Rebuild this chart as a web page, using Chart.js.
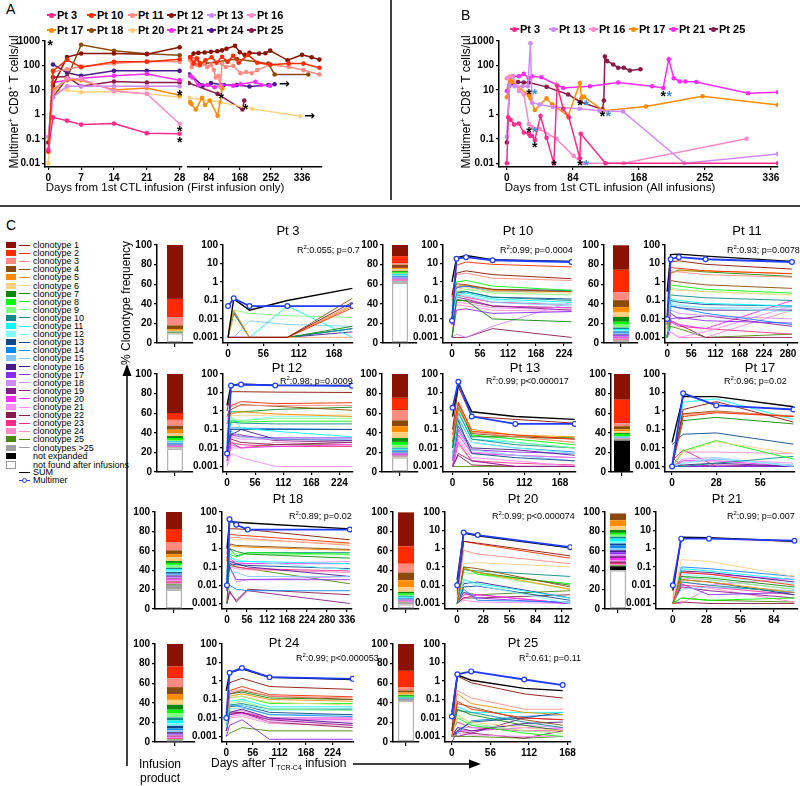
<!DOCTYPE html>
<html>
<head>
<meta charset="utf-8">
<script src="https://cdn.jsdelivr.net/npm/chart.js@4.4.1/dist/chart.umd.min.js"></script>
<style>
body{margin:0;width:800px;height:786px;position:relative;background:#fff;overflow:hidden;font-family:"Liberation Sans",Arial,sans-serif;color:#000}
canvas{position:absolute}
.t{position:absolute;white-space:nowrap;line-height:1}
</style>
</head>
<body>
<svg width="800" height="786" style="position:absolute;left:0;top:0">
  <line x1="391" y1="0" x2="391" y2="200" stroke="#000" stroke-width="1.5"/>
  <line x1="0" y1="206" x2="800" y2="206" stroke="#000" stroke-width="1.5"/>
  <line x1="127" y1="766" x2="127" y2="374" stroke="#000" stroke-width="1.5"/>
  <polygon points="127,364 122.5,376 131.5,376" fill="#000"/>
  <line x1="353" y1="764" x2="470" y2="764" stroke="#000" stroke-width="1.5"/>
  <polygon points="481,764 469,759.5 469,768.5" fill="#000"/>
</svg>
<script>
Chart.defaults.font.family = '"Liberation Sans", Arial, sans-serif';
Chart.defaults.color = '#000';

// ---------- panel A data (first infusion only) ----------
const aNames = ['Pt 3', 'Pt 10', 'Pt 11', 'Pt 12', 'Pt 13', 'Pt 16', 'Pt 17', 'Pt 18', 'Pt 20', 'Pt 21', 'Pt 24', 'Pt 25'];
const aColors = ['#ff2a8a', '#ff2a00', '#ff8a80', '#8b1200', '#d08aff', '#ff8ac8', '#ff8c00', '#8b4a0a', '#ffd080', '#ff2aff', '#4a1a8a', '#8a1a4a'];
const aEarlyDays = [0, 1, 4, 7, 14, 21, 28];
const aEarly = [
    [0.035, 0.75, 0.55, 0.38, 0.42, 0.17, 0.16],
    [0.03, 60, 170, 85, 140, 140, 180],
    [0.03, 55, 70, 90, 120, 150, 140],
    [null, 15, 220, 310, 310, 290, 550],
    [0.12, 5, 14, 14, 14, 14, 14],
    [null, 8, 30, 28, 9, 7, 0.4],
    [null, 10, 27, 25, 10, 12, 6],
    [null, 5, 30, 700, 400, 300, 260],
    [0.01, 9, 10, 8, 8.5, 7, 5],
    [null, 20, 25, 30, 38, 45, 25],
    [null, 110, 50, 38, 60, 60, 60],
    [0.07, 33, 35, 14, 22, 20, 20]
];
// later time points as [day, cells/µl]
const aLatePt10 = [[34, 200], [43, 110], [52, 180], [60, 100], [75, 150], [92, 200], [105, 120], [120, 210], [135, 130], [150, 230], [165, 120], [190, 250], [215, 120], [250, 100], [300, 110], [340, 110], [383, 75]];
const aLatePt11 = [[34, 150], [38, 80], [45, 170], [52, 100], [60, 90], [70, 110], [80, 80], [90, 100], [98, 60], [103, 30], [110, 35], [115, 13], [120, 110], [130, 80], [150, 90], [170, 45], [185, 50], [200, 45], [215, 60], [250, 100], [300, 80], [340, 60], [383, 40]];
const aLatePt12 = [[34, 200], [43, 280], [56, 300], [73, 310], [90, 330], [107, 350], [120, 380], [132, 440], [155, 580], [168, 320], [181, 250], [194, 300], [220, 280], [237, 290], [250, 370], [297, 150], [336, 250], [362, 200], [383, 160]];
const aLatePt17 = [[34, 3], [37, 2.5], [49, 1.5], [66, 4.5], [74, 2.3], [87, 3.5], [108, 0.85], [121, 11]];
const aLatePt18 = [[34, 200], [73, 110], [160, 170], [245, 110], [262, 40], [353, 40]];
const aLatePt20 = [[30, 4.5], [115, 3], [202, 1.6], [332, 0.8]];
const aLatePt21 = [[34, 35], [40, 30], [56, 15], [80, 15], [100, 12], [120, 15], [150, 14], [170, 16], [210, 20], [225, 15], [250, 14]];
const aLatePt24 = [[32, 40], [68, 14], [90, 18], [125, 15], [160, 15], [194, 13], [245, 15], [262, 16]];
const aLatePt25 = [[30, 18], [108, 6.5], [175, 1.5], [180, 3.5]];
const aStarsEarly = [[0.4, 780], [28, 7.6], [28, 0.25], [28, 0.085]];
const aStarsLate = [[118, 5.4], [183, 1.9]];
const aArrowsLate = [[288, 15.6], [356, 0.75]];

// ---------- panel B data (all infusions) ----------
const bNames = ['Pt 3', 'Pt 13', 'Pt 16', 'Pt 17', 'Pt 21', 'Pt 25'];
const bColors = ['#ff2a8a', '#d08aff', '#ff8ac8', '#ff8c00', '#ff2aff', '#8a1a4a'];
const bPt3 = [[0, 0.01], [1.7, 0.75], [4.7, 0.6], [9.3, 0.38], [15.3, 0.42], [21.6, 0.18], [28, 0.16], [30, 0.13], [32, 0.13], [35.6, 0.09], [42.8, 0.85], [50.5, 0.11], [59.8, 0.01], [64, 15], [71.7, 1.7], [78.9, 0.75], [92.9, 0.016], [94, 0.16], [125.5, 0.01], [345, 0.01]];
const bPt13 = [[0, 0.12], [3.4, 15], [10, 14], [20, 14], [26.7, 14], [30, 800], [32, 3], [41.7, 2.5], [58.7, 2], [92.6, 1.7], [118, 1.4], [147.7, 1.3], [226, 0.01], [345, 0.024]];
const bPt16 = [[0, 30], [3.4, 35], [7.6, 35], [15.3, 9], [21.6, 6.5], [28, 0.4], [32, 0.3], [41.7, 0.25], [62.9, 0.1], [85, 0.02], [96, 0.01], [148.5, 0.01], [305, 0.1]];
const bPt17 = [[0, 5], [3.4, 28], [6.4, 22], [28, 6], [30, 4.5], [35.6, 1.5], [50.5, 4.5], [57.7, 2.6], [78, 0.85], [92.9, 19], [95, 4.6], [98, 5.3], [123, 1.4], [177, 2.1], [249, 5.5], [345, 2.4]];
const bPt21 = [[0, 9], [3.4, 30], [7.6, 36], [15.3, 36], [21.6, 45], [28, 30], [32, 36], [43.9, 33], [71.7, 12], [105.6, 14], [141.6, 20], [184.9, 14], [198.9, 12], [206, 180], [212.4, 30], [220, 22], [227.2, 22], [241.2, 21], [307, 7.3], [345, 8]];
const bPt25 = [[0, 0.07], [3.4, 15], [14.2, 21], [21.6, 20], [28, 20], [50.5, 13.3], [78, 6.5], [93.7, 3.2], [121.7, 1.6], [123.4, 3.7], [124.7, 230], [127.7, 150], [135.3, 110], [141.6, 80], [148.8, 80], [156.5, 62], [170, 70]];
const bStarsBlack = [[28, 8], [28, 0.22], [35.6, 0.055], [59.8, 0.01], [92.9, 2.8], [92.9, 0.01], [121.7, 1.06], [198.9, 6.9]];
const bStarsBlue = [[35.6, 8], [35.6, 0.22], [101, 2.8], [101, 0.01], [129, 1.06], [206.6, 6.9]];

// ---------- panel C data ----------
// clonotype colours, index 0 = clonotype 1
const cloneColors = ['#8b1200', '#ff2a00', '#ff8a80', '#8b4a0a', '#ff8c00', '#ffd080', '#0a8a0a', '#00ff00', '#80ff80', '#0a8a8a', '#00ffff', '#80ffff', '#0a4a8a', '#0a8aff', '#80c8ff', '#4a1a8a', '#8a2aff', '#d08aff', '#8a1a8a', '#ff2aff', '#ff8aff', '#8a1a4a', '#ff2a8a', '#ff8ac8', '#4a8a0a'];
const multimerBlue = '#1f3cff';
// bar values: clonotype 1..25, clonotypes >25, not expanded, not found after infusions (%)

const days3 = [0, 9, 34, 94, 197];
const multimer3 = [0.05, 0.13, 0.05, 0.05, 0.05];
const sum3 = [0.001, 0.12, 0.03, 0.1, 0.45];
const clones3 = [
    [0.001, 0.001, 0.001, 0.001, 0.08], [0.001, 0.001, 0.001, 0.001, 0.04], [0.001, 0.001, 0.001, 0.001, 0.06],
    [0.001, 0.001, 0.001, 0.001, 0.13], [0.001, 0.03, 0.001, 0.001, 0.05], [0.001, 0.01, 0.001, 0.001, 0.001],
    [0.001, 0.001, 0.001, 0.001, 0.004], null, [0.001, 0.03, 0.02, 0.015, 0.012],
    [0.001, 0.025, 0.001, 0.001, 0.003], [0.001, 0.001, 0.001, 0.05, 0.001], null,
    [0.001, 0.02, 0.001, 0.001, 0.003], null, [0.001, 0.001, 0.008, 0.005, 0.004],
    [0.001, 0.001, 0.001, 0.001, 0.002], [0.001, 0.001, 0.001, 0.001, 0.001], null, null, null, null, null, null, null, null
];
const bar3 = [55, 19, 8, 4, 1.5, 1, 1, 0, 0, 0, 0, 0, 0, 0, 0, 0, 0, 0, 0, 0, 0, 0, 0, 0, 0, 0.5, 0, 10];

const days10 = [0, 9, 28, 81, 239];
const multimer10 = [0.008, 18, 22, 15, 12];
const sum10 = [1, 20, 27, 16, 13];
const clones10 = [
    [0.2, 3, 4, 2.5, 1.5], [0.15, 8, 12, 9, 6.5], [0.1, 2.5, 3, 1.6, 1.2], [0.2, 0.8, 0.7, 0.4, 0.3], [0.1, 0.6, 0.7, 0.35, 0.3],
    [0.05, 0.4, 0.5, 0.3, 0.25], [0.001, 0.1, 0.1, 0.01, 0.007], [0.05, 1, 1.2, 0.6, 0.35], [0.05, 0.3, 0.4, 0.25, 0.2], [0.02, 0.3, 0.3, 0.15, 0.1],
    [0.02, 0.2, 0.25, 0.12, 0.08], [0.01, 0.15, 0.2, 0.1, 0.06], [0.01, 0.25, 0.3, 0.15, 0.12], [0.02, 0.5, 0.6, 0.3, 0.35], [0.01, 0.15, 0.18, 0.08, 0.05],
    [0.01, 0.5, 0.6, 0.4, 0.35], [0.001, 0.03, 0.035, 0.02, 0.025], [0.001, 0.0015, 0.001, 0.004, 0.08], [0.005, 0.15, 0.12, 0.05, 0.03], [0.005, 0.1, 0.1, 0.05, 0.04],
    [0.005, 0.08, 0.07, 0.04, 0.03], [0.001, 0.001, 0.001, 0.003, 0.001], [0.01, 0.2, 0.15, 0.08, 0.06], [0.005, 0.06, 0.05, 0.03, 0.025], [0.001, 0.12, 0.09, 0.05, 0.04]
];
const bar10 = [11.5, 7, 2, 3, 1.5, 1.5, 1, 1, 1, 0.8, 0.8, 0.5, 0.7, 0.8, 0.5, 0.5, 0.4, 0.3, 0.4, 0.5, 0.3, 0.2, 0.4, 0.3, 0.2, 1.5, 0, 61.5];

const days11 = [0, 8, 27, 89, 289];
const multimer11 = [0.01, 17, 22, 17, 12];
const sum11 = [0.3, 30, 32, 25, 13];
const clones11 = [
    [0.01, 12, 14, 9, 5], [0.005, 6, 5.5, 4, 2.8], [0.003, 4, 3.5, 2.5, 1.8], [0.005, 1.2, 1, 0.7, 0.45], [0.003, 3, 4, 4, 2.8],
    [0.002, 0.4, 0.35, 0.3, 0.2], [0.001, 3, 4.5, 3.5, 2], [0.001, 0.7, 0.6, 0.4, 0.25], [0.001, 0.5, 0.4, 0.3, 0.2], [0.001, 0.2, 0.18, 0.14, 0.1],
    [0.001, 0.12, 0.1, 0.07, 0.05], [0.001, 0.08, 0.06, 0.04, 0.025], [0.005, 0.1, 0.08, 0.06, 0.05], [0.001, 0.05, 0.04, 0.02, 0.005], [0.001, 0.06, 0.05, 0.04, 0.04],
    [0.001, 0.05, 0.04, 0.03, 0.03], [0.001, 0.01, 0.012, 0.008, 0.006], [0.001, 0.03, 0.02, 0.015, 0.01], [0.001, 0.02, 0.01, 0.015, 0.004], [0.001, 0.008, 0.005, 0.003, 0.1],
    [0.001, 0.002, 0.001, 0.002, 0.05], [0.001, 0.008, 0.005, 0.001, 0.001], [0.001, 0.007, 0.004, 0.003, 0.0015], [0.001, 0.002, 0.001, 0.001, 0.03], [0.001, 0.004, 0.003, 0.001, 0.0015]
];
const bar11 = [25, 23, 8, 7, 5, 5, 5, 3, 3, 1.5, 1.5, 1, 1, 1, 1, 0.8, 0.8, 0.7, 0.7, 0.8, 0.6, 0.4, 0.6, 0.5, 0.3, 0.5, 0, 2];

const days12 = [0, 8, 28, 96, 249];
const multimer12 = [0.005, 24, 27, 24, 23];
const sum12 = [2, 26, 28, 25, 24];
const clones12 = [
    [1, 11, 11, 10.5, 10], [0.5, 2, 3.2, 2.5, 2.8], [0.3, 1.8, 2, 2, 2], [0.5, 1.2, 2.2, 1.8, 1.1], [0.2, 0.7, 0.9, 0.7, 0.5],
    [0.1, 0.6, 0.55, 0.6, 0.6], [0.2, 0.9, 0.9, 1.2, 1.6], [0.05, 0.3, 0.25, 0.28, 0.28], [0.05, 0.4, 0.3, 0.4, 0.4], [0.03, 0.25, 0.22, 0.2, 0.2],
    [0.02, 0.5, 0.12, 0.08, 0.04], [0.02, 0.3, 0.3, 0.5, 0.5], [0.01, 0.1, 0.1, 0.1, 0.1], [0.02, 0.12, 0.12, 0.11, 0.1], [0.05, 0.08, 0.04, 0.03, 0.03],
    [0.01, 0.05, 0.1, 0.03, 0.025], [0.005, 0.05, 0.04, 0.035, 0.035], [0.005, 0.04, 0.03, 0.03, 0.03], [0.003, 0.06, 0.05, 0.025, 0.02], [0.002, 0.015, 0.01, 0.012, 0.015],
    [0.001, 0.005, 0.003, 0.001, 0.001], [0.003, 0.03, 0.02, 0.015, 0.02], [0.002, 0.02, 0.015, 0.012, 0.012], [0.001, 0.01, 0.01, 0.02, 0.015], [0.002, 0.02, 0.01, 0.015, 0.015]
];
const bar12 = [40, 7, 6, 4, 4, 2.5, 2, 2, 1, 0.7, 0.7, 0.6, 0.5, 0.8, 0.5, 0.4, 0.4, 0.3, 0.3, 0.3, 0.2, 0.3, 0.3, 0.2, 0.2, 1, 0, 24];

const days13 = [0, 9, 30, 98, 191];
const multimer13 = [1.5, 38, 0.5, 0.2, 0.2];
const sum13 = [0.5, 30, 0.9, 0.5, 0.35];
const clones13 = [
    [0.1, 20, 0.5, 0.35, 0.22], [0.05, 3, 0.08, 0.05, 0.03], [0.03, 2, 0.07, 0.04, 0.02], [0.02, 1.5, 0.06, 0.04, 0.03], [0.1, 3, 0.1, 0.05, 0.04],
    [0.05, 1, 0.08, 0.04, 0.02], [0.01, 2.5, 0.04, 0.04, 0.035], [0.02, 2, 0.05, 0.03, 0.015], [0.02, 1.2, 0.05, 0.02, 0.01], [0.01, 0.8, 0.03, 0.015, 0.01],
    [0.01, 1, 0.03, 0.02, 0.01], [0.005, 0.5, 0.02, 0.01, 0.005], [0.005, 0.3, 0.005, 0.003, 0.002], [0.01, 0.4, 0.02, 0.01, 0.006], [0.003, 0.2, 0.008, 0.004, 0.002],
    [0.003, 0.15, 0.01, 0.008, 0.004], [0.002, 0.1, 0.008, 0.006, 0.005], [0.002, 0.08, 0.006, 0.004, 0.003], [0.001, 0.005, 0.002, 0.001, 0.001], [0.001, 0.05, 0.005, 0.004, 0.003],
    [0.001, 0.03, 0.003, 0.002, 0.001], [0.001, 0.004, 0.0012, 0.001, 0.001], [0.001, 0.02, 0.002, 0.0015, 0.0012], [0.001, 0.015, 0.002, 0.001, 0.001], [0.001, 0.001, 0.001, 0.001, 0.001]
];
const bar13 = [25, 13, 10, 6, 6, 6, 4, 3, 3, 1, 1, 0.8, 0.8, 0.8, 0.6, 0.5, 0.6, 0.5, 0.5, 0.5, 0.4, 0.3, 0.4, 0.3, 0.2, 0.5, 0, 15];

const days17 = [0, 7, 28, 77];
const multimer17 = [0.001, 9, 2, 1.2];
const sum17 = [0.02, 6, 6, 1.7];
const clones17 = [
    [0.001, 1.2, 3.2, 0.25], [0.001, 0.5, 0.8, 0.5], [0.001, 0.6, 0.9, 0.55], [0.001, 0.7, 1, 0.5], [0.001, 0.7, 0.9, 0.5],
    [0.001, 0.006, 0.022, 0.005], [0.001, 0.3, 0.45, 0.2], [0.001, 0.007, 0.025, 0.0025], null, [0.001, 0.001, 0.0015, 0.0035],
    [0.001, 3, 4.5, 0.35], [0.001, 0.0015, 0.003, 0.001], [0.015, 0.055, 0.065, 0.016], null, [0.001, 0.0015, 0.0025, 0.0012],
    [0.001, 0.0012, 0.0015, 0.001], [0.001, 0.001, 0.001, 0.001], [0.001, 0.0025, 0.003, 0.001], [0.001, 0.001, 0.0012, 0.001], [0.001, 0.002, 0.002, 0.001],
    [0.001, 0.002, 0.0025, 0.0015], [0.003, 0.001, 0.001, 0.001], [0.002, 0.008, 0.001, 0.001], [0.001, 0.006, 0.006, 0.005], null
];
const bar17 = [27, 24, 3, 3, 2, 2, 1, 2, 0.5, 0.3, 0.5, 0.1, 0.1, 0.1, 0.1, 0.1, 0.1, 0.1, 0.1, 0.1, 0.1, 0.1, 0.1, 0.1, 0.1, 2, 32, 0];

const days18 = [0, 7, 26, 58, 344];
const multimer18 = [0.01, 40, 20, 11, 11];
const sum18 = [1, 30, 28, 25, 12];
const clones18 = [
    [0.5, 12, 12, 11, 3], [0.2, 6, 5.5, 5, 2], [0.2, 4, 4, 3.5, 1.5], [0.3, 1.8, 1.5, 1.4, 0.9], [0.3, 1.5, 1.3, 1.2, 0.8],
    [0.2, 3.5, 3, 3, 1.8], [0.001, 1, 0.7, 0.5, 0.3], [0.05, 0.5, 0.35, 0.6, 0.5], [0.05, 0.6, 0.5, 0.5, 0.45], [0.02, 1, 0.4, 0.6, 0.6],
    [0.02, 0.4, 0.2, 0.2, 0.15], [0.02, 0.3, 0.25, 0.2, 0.07], [0.01, 0.15, 0.13, 0.12, 0.08], [0.01, 0.01, 0.006, 0.005, 0.005], [0.01, 0.05, 0.05, 0.03, 0.03],
    [0.005, 0.2, 0.15, 0.1, 0.03], [0.005, 0.1, 0.02, 0.02, 0.02], [0.005, 0.12, 0.015, 0.02, 0.03], [0.001, 0.005, 0.0012, 0.005, 0.001], [0.01, 0.3, 0.15, 0.15, 0.15],
    [0.01, 0.2, 0.2, 0.15, 0.2], [0.001, 0.004, 0.0015, 0.006, 0.003], [0.01, 0.15, 0.1, 0.08, 0.06], [0.005, 0.1, 0.08, 0.07, 0.05], [0.001, 0.12, 0.1, 0.08, 0.012]
];
const bar18 = [18, 14, 8, 4, 3, 4, 2, 2, 3, 1.5, 1.5, 1.5, 1.5, 1, 1, 1, 1, 1, 1, 1, 1, 0.5, 1, 1, 1, 5, 0, 20];

const days20 = [0, 7, 22, 121];
const multimer20 = [0.01, 7.5, 5.5, 1.2];
const sum20 = [0.02, 7, 5, 1.1];
const clones20 = [
    [0.005, 2.5, 2, 0.4], [0.003, 2.5, 1.8, 0.3], [0.002, 0.8, 0.5, 0.15], [0.001, 0.1, 0.08, 0.008], [0.001, 0.08, 0.05, 0.006],
    [0.001, 0.15, 0.17, 0.1], [0.001, 0.08, 0.05, 0.01], [0.001, 0.1, 0.04, 0.012], [0.001, 0.05, 0.04, 0.006], [0.001, 0.07, 0.06, 0.03],
    [0.001, 0.02, 0.012, 0.002], [0.001, 0.015, 0.01, 0.001], [0.001, 0.008, 0.009, 0.0015], [0.001, 0.006, 0.0015, 0.0012], null,
    [0.001, 0.012, 0.015, 0.002], [0.001, 0.004, 0.002, 0.001], null, null, [0.001, 0.003, 0.003, 0.001],
    [0.001, 0.0015, 0.0012, 0.001], [0.001, 0.002, 0.002, 0.003], [0.001, 0.002, 0.003, 0.001], null, [0.001, 0.004, 0.003, 0.005]
];
const bar20 = [35, 18, 9, 8, 7, 5, 1.5, 1.5, 1, 1, 1, 0.5, 0.5, 0.5, 0.5, 0.3, 0.3, 0.3, 0.3, 0.3, 0.2, 0.2, 0.3, 0.2, 0.2, 2, 0, 5];

const days21 = [0, 7, 30, 101];
const multimer21 = [0.01, 3.5, 3.5, 2.7];
const sum21 = [0.005, 4.2, 4, 2.5];
const clones21 = [
    null, [0.001, 0.05, 0.04, 0.01], [0.002, 4, 3.8, 2.3], null, [0.001, 0.02, 0.015, 0.004],
    [0.001, 0.25, 0.2, 0.03], [0.001, 0.03, 0.025, 0.008], [0.001, 0.002, 0.0015, 0.002], [0.001, 0.03, 0.02, 0.006], [0.001, 0.015, 0.01, 0.004],
    [0.001, 0.08, 0.06, 0.02], [0.001, 0.04, 0.03, 0.012], [0.001, 0.02, 0.015, 0.003], [0.001, 0.1, 0.08, 0.03], [0.001, 0.006, 0.008, 0.005],
    [0.001, 0.06, 0.05, 0.015], [0.001, 0.012, 0.003, 0.004], [0.001, 0.025, 0.02, 0.006], [0.001, 0.008, 0.005, 0.002], [0.001, 0.05, 0.04, 0.02],
    [0.001, 0.015, 0.01, 0.025], [0.001, 0.0012, 0.001, 0.001], [0.001, 0.01, 0.008, 0.003], [0.001, 0.001, 0.007, 0.0012], [0.001, 0.002, 0.0015, 0.0012]
];
const bar21 = [0, 0, 0, 7, 6, 4, 3, 2, 2, 2, 3, 2, 2, 3, 2, 2, 2, 2, 2, 2, 1.5, 1.5, 1.5, 1, 1, 0, 4, 40];

const days24 = [0, 7, 33, 91, 266];
const multimer24 = [0.01, 2.8, 5, 1.6, 1.3];
const sum24 = [0.3, 2.8, 4.5, 1.6, 1.2];
const clones24 = [
    [0.3, 0.8, 1.4, 0.5, 0.35], [0.02, 0.3, 0.5, 0.18, 0.14], [0.02, 0.25, 0.35, 0.15, 0.12], [0.01, 0.2, 0.3, 0.15, 0.1], [0.01, 0.15, 0.2, 0.1, 0.08],
    [0.01, 0.12, 0.15, 0.07, 0.05], [0.01, 0.2, 0.25, 0.12, 0.1], [0.01, 0.12, 0.15, 0.06, 0.06], [0.005, 0.06, 0.08, 0.03, 0.025], [0.005, 0.05, 0.06, 0.03, 0.03],
    [0.005, 0.08, 0.1, 0.04, 0.04], [0.003, 0.05, 0.05, 0.025, 0.03], [0.003, 0.04, 0.05, 0.02, 0.015], [0.003, 0.05, 0.04, 0.015, 0.012], [0.003, 0.03, 0.035, 0.015, 0.015],
    [0.002, 0.02, 0.03, 0.01, 0.005], [0.001, 0.004, 0.008, 0.0007, 0.0007], [0.002, 0.02, 0.025, 0.01, 0.01], [0.002, 0.015, 0.02, 0.008, 0.004], [0.002, 0.015, 0.018, 0.008, 0.008],
    [0.002, 0.012, 0.015, 0.006, 0.006], [0.002, 0.018, 0.02, 0.006, 0.003], [0.002, 0.02, 0.02, 0.01, 0.01], [0.002, 0.01, 0.012, 0.005, 0.004], [0.001, 0.0015, 0.003, 0.002, 0.002]
];
const bar24 = [23, 12, 9, 7, 6, 5, 5, 4, 4, 3, 3, 2.5, 2.5, 2, 2, 1.5, 1, 1, 1, 1, 0.5, 0.5, 0.5, 0.5, 0.5, 2, 0, 0];

const days25 = [0, 8, 28, 105, 161];
const multimer25 = [0.012, 2.3, 3.3, 1.2, 0.6];
const sum25 = [0.02, 2.1, 1.1, 0.4, 0.3];
const clones25 = [
    [0.002, 1.8, 0.8, 0.2, 0.12], [0.001, 0.08, 0.03, 0.01, 0.008], [0.002, 0.3, 0.12, 0.03, 0.03], [0.002, 0.06, 0.04, 0.008, 0.004], [0.002, 0.2, 0.06, 0.02, 0.015],
    [0.001, 0.012, 0.006, 0.003, 0.002], [0.001, 0.03, 0.015, 0.004, 0.002], [0.001, 0.01, 0.004, 0.0015, 0.001], [0.001, 0.015, 0.005, 0.002, 0.0015], [0.002, 0.025, 0.02, 0.006, 0.003],
    [0.001, 0.04, 0.02, 0.02, 0.02], null, [0.001, 0.002, 0.006, 0.01, 0.02], [0.001, 0.0015, 0.007, 0.012, 0.015], null,
    [0.001, 0.003, 0.002, 0.005, 0.006], null, [0.001, 0.003, 0.003, 0.004, 0.003], [0.003, 0.001, 0.0015, 0.01, 0.008], [0.001, 0.002, 0.002, 0.003, 0.0025],
    [0.001, 0.0015, 0.0012, 0.001, 0.001], [0.0005, 0.002, 0.0015, 0.0008, 0.002], [0.002, 0.006, 0.003, 0.002, 0.002], null, [0.001, 0.001, 0.001, 0.0008, 0.001]
];
const bar25 = [28, 17, 3, 2, 1.5, 1, 1, 1, 0.5, 0.5, 0.5, 0, 0.3, 0.3, 0, 0, 0, 0, 0, 0, 0, 0, 0, 0, 0, 2, 0, 42];

// ---------- helpers ----------
const TICK_FONT = {size: 10, weight: 'bold'};

function addCanvas(left, top, w, h) {
    const c = document.createElement('canvas');
    c.width = w;
    c.height = h;
    c.style.left = left + 'px';
    c.style.top = top + 'px';
    document.body.appendChild(c);
    return c;
}

function txt(html, x, y, css, align) {
    const d = document.createElement('div');
    d.className = 't';
    d.innerHTML = html;
    d.style.cssText += css || '';
    d.style.left = x + 'px';
    d.style.top = y + 'px';
    const tx = align === 'l' ? '0' : align === 'r' ? '-100%' : '-50%';
    d.style.transform = 'translate(' + tx + ',-50%)' + (align === 'rot' ? ' rotate(-90deg)' : '');
    document.body.appendChild(d);
    return d;
}

function fixedTicks(vals) {
    return s => { s.ticks = vals.map(v => ({value: v})); };
}

function axisStyle(extra, tickExtra) {
    return Object.assign({
        grid: {drawOnChartArea: false, color: '#000', tickLength: 3, lineWidth: 1.2},
        border: {color: '#000', width: 1.5},
        ticks: Object.assign({font: TICK_FONT, color: '#000', padding: 2, maxRotation: 0, autoSkip: false}, tickExtra)
    }, extra);
}
// plain labels on log axes: 0.001, 0.01 ... 1000
const plainLabel = {callback: v => String(v)};

// draws asterisks / arrows at data coordinates
const markPlugin = {
    id: 'marks',
    afterDatasetsDraw(chart, args, opts) {
        const ctx = chart.ctx;
        ctx.save();
        ctx.textAlign = 'center';
        ctx.textBaseline = 'middle';
        (opts.sets || []).forEach(set => {
            ctx.fillStyle = set.color;
            ctx.font = set.font;
            set.points.forEach(p => {
                ctx.fillText(set.text, chart.scales.x.getPixelForValue(p[0]), chart.scales.y.getPixelForValue(p[1]) + set.dy);
            });
        });
        ctx.restore();
    }
};

const logTicks4 = [0.01, 0.1, 1, 10, 100, 1000];
const TOP_AB = 40, BOTTOM_AB = 167, PT = 7, XH = 16;

function abChart(left, axisX, right, xmin, xmax, xticks, datasets, showY, marks) {
    const YW = showY ? axisX - left : 0;
    const w = right - axisX + YW + 8;
    const cv = addCanvas(axisX - YW, TOP_AB - PT, w, BOTTOM_AB - TOP_AB + PT + XH);
    new Chart(cv, {
        type: 'line',
        data: {datasets: datasets},
        options: {
            responsive: false, animation: false, devicePixelRatio: 1,
            layout: {padding: {top: PT, right: 8, left: 0, bottom: 0}},
            plugins: {legend: {display: false}, tooltip: {enabled: false}, marks: {sets: marks}},
            scales: {
                x: axisStyle({type: 'linear', min: xmin, max: xmax, afterBuildTicks: fixedTicks(xticks), afterFit: s => { s.height = XH; }}),
                y: axisStyle({type: 'logarithmic', display: showY, min: 0.007, max: 1000, afterBuildTicks: fixedTicks(logTicks4),
                    afterFit: s => { s.width = YW; }}, plainLabel)
            }
        },
        plugins: [markPlugin]
    });
}

function dotSet(points, color) {
    return {data: points, borderColor: color, backgroundColor: color, borderWidth: 1.5, pointRadius: 2.3, pointBorderWidth: 0, tension: 0};
}

// ---------- panel A ----------
const aEarlySets = aEarly.map((vals, i) => dotSet(aEarlyDays.map((d, j) => ({x: d, y: vals[j]})), aColors[i]));
abChart(9, 45, 182, -0.7, 28.5, [0, 7, 14, 21, 28], aEarlySets, true,
    [{text: '*', color: '#000', font: 'bold 14px "Liberation Sans"', dy: 3, points: aStarsEarly}]);

const aLate = [[aLatePt10, 1], [aLatePt11, 2], [aLatePt12, 3], [aLatePt17, 6], [aLatePt18, 7], [aLatePt20, 8], [aLatePt21, 9], [aLatePt24, 10], [aLatePt25, 11]];
const aLateSets = aLate.map(([pts, ci]) => dotSet(pts.map(p => ({x: p[0], y: p[1]})), aColors[ci]));
abChart(184, 184, 322, 28, 390, [84, 168, 252, 336], aLateSets, false,
    [{text: '*', color: '#000', font: 'bold 14px "Liberation Sans"', dy: 3, points: aStarsLate},
     {text: '\u2192', color: '#000', font: 'bold 13px "DejaVu Sans"', dy: 0, points: aArrowsLate}]);

// ---------- panel B ----------
const bAll = [bPt3, bPt13, bPt16, bPt17, bPt21, bPt25];
const bSets = bAll.map((pts, i) => dotSet(pts.map(p => ({x: p[0], y: p[1]})), bColors[i]));
abChart(463, 499, 778, -10, 345, [0, 84, 168, 252, 336], bSets, true,
    [{text: '*', color: '#000', font: 'bold 14px "Liberation Sans"', dy: 3, points: bStarsBlack},
     {text: '*', color: '#3a8fd8', font: 'bold 14px "Liberation Sans"', dy: 3, points: bStarsBlue}]);

// legends A and B
function legendItem(name, color, x, y) {
    const m = document.createElement('div');
    m.style.cssText = 'position:absolute;left:' + x + 'px;top:' + (y - 1) + 'px;width:9px;height:2px;background:' + color;
    document.body.appendChild(m);
    const dot = document.createElement('div');
    dot.style.cssText = 'position:absolute;left:' + (x + 2) + 'px;top:' + (y - 2.5) + 'px;width:5px;height:5px;border-radius:50%;background:' + color;
    document.body.appendChild(dot);
    txt(name, x + 10, y, 'font-size:11px;font-weight:bold;', 'l');
}
const aLegX = [47, 87, 128, 167, 207, 247];
aNames.forEach((n, i) => legendItem(n, aColors[i], aLegX[i % 6], i < 6 ? 15 : 30));
const bLegX = [510, 549, 589, 629, 669, 709];
bNames.forEach((n, i) => legendItem(n, bColors[i], bLegX[i], 29));

txt('A', 6, 9, 'font-size:14px;', 'l');
txt('B', 461, 15, 'font-size:14px;', 'l');
txt('C', 6, 225, 'font-size:14px;', 'l');
txt('Multimer<sup style="font-size:8px">+</sup> CD8<sup style="font-size:8px">+</sup> T cells/\u00b5l', 13, 102, 'font-size:12px;', 'rot');
txt('Multimer<sup style="font-size:8px">+</sup> CD8<sup style="font-size:8px">+</sup> T cells/\u00b5l', 465, 102, 'font-size:12px;', 'rot');
txt('Days from 1st CTL infusion (First infusion only)', 165, 188, 'font-size:11.5px;');
txt('Days from 1st CTL infusion (All infusions)', 610, 188, 'font-size:11.5px;');

// ---------- panel C ----------
const stackColors = cloneColors.concat(['#a0a0a0', '#000000', '#ffffff']);
const ROWS = [
    {top: 244, bottom: 343, ty: 230, ry: 249},
    {top: 373, bottom: 472, ty: 367, ry: 380},
    {top: 511, bottom: 609, ty: 498, ry: 515},
    {top: 643, bottom: 742, ty: 642, ry: 657}
];
const patients = [
    {name: 'Pt 3', days: days3, multimer: multimer3, sum: sum3, clones: clones3, bar: bar3, xr: [-8, 198], xt: [0, 56, 112, 168], row: 0, bx: 157, boff: 10, x0: 223, x1: 353, tx: 288, r2: 'R<sup>2</sup>:0.055; p=0.7', rx: 297},
    {name: 'Pt 10', days: days10, multimer: multimer10, sum: sum10, clones: clones10, bar: bar10, xr: [-18, 240], xt: [0, 56, 112, 168, 224], row: 0, bx: 383, boff: 9, x0: 443, x1: 572, tx: 518, r2: 'R<sup>2</sup>:0.99; p=0.0004', rx: 500},
    {name: 'Pt 11', days: days11, multimer: multimer11, sum: sum11, clones: clones11, bar: bar11, xr: [-5, 303], xt: [0, 56, 112, 168, 224, 280], row: 0, bx: 604, boff: 9, x0: 665, x1: 798, tx: 747, r2: 'R<sup>2</sup>:0.93; p=0.0078', rx: 727},
    {name: 'Pt 12', days: days12, multimer: multimer12, sum: sum12, clones: clones12, bar: bar12, xr: [-8, 251], xt: [0, 56, 112, 168, 224], row: 1, bx: 157, boff: 10, x0: 223, x1: 353, tx: 287, r2: 'R<sup>2</sup>:0.98; p=0.0009', rx: 280},
    {name: 'Pt 13', days: days13, multimer: multimer13, sum: sum13, clones: clones13, bar: bar13, xr: [-15, 193], xt: [0, 56, 112, 168], row: 1, bx: 382, boff: 10, x0: 443, x1: 576, tx: 525, r2: 'R<sup>2</sup>:0.99; p&lt;0.000017', rx: 486},
    {name: 'Pt 17', days: days17, multimer: multimer17, sum: sum17, clones: clones17, bar: bar17, xr: [-4.5, 78], xt: [0, 28, 56], row: 1, bx: 611, boff: 3, x0: 665, x1: 795, tx: 760, r2: 'R<sup>2</sup>:0.96; p=0.02', rx: 724},
    {name: 'Pt 18', days: days18, multimer: multimer18, sum: sum18, clones: clones18, bar: bar18, xr: [-14, 350], xt: [0, 56, 112, 168, 224, 280, 336], row: 2, bx: 155, boff: 11, x0: 222, x1: 352, tx: 288, r2: 'R<sup>2</sup>:0.89; p=0.02', rx: 289},
    {name: 'Pt 20', days: days20, multimer: multimer20, sum: sum20, clones: clones20, bar: bar20, xr: [-13, 123], xt: [0, 28, 56, 84, 112], row: 2, bx: 393, boff: 5, x0: 445, x1: 572, tx: 523, r2: 'R<sup>2</sup>:0.99; p&lt;0.000074', rx: 492},
    {name: 'Pt 21', days: days21, multimer: multimer21, sum: sum21, clones: clones21, bar: bar21, xr: [-14, 104], xt: [0, 28, 56, 84], row: 2, bx: 605, boff: 5, x0: 656, x1: 798, tx: 727, r2: 'R<sup>2</sup>:0.99; p=0.007', rx: 727},
    {name: 'Pt 24', days: days24, multimer: multimer24, sum: sum24, clones: clones24, bar: bar24, xr: [-9, 269], xt: [0, 56, 112, 168, 224], row: 3, bx: 155, boff: 12, x0: 222, x1: 354, tx: 284, r2: 'R<sup>2</sup>:0.99; p&lt;0.000053', rx: 296},
    {name: 'Pt 25', days: days25, multimer: multimer25, sum: sum25, clones: clones25, bar: bar25, xr: [-10, 172], xt: [0, 56, 112, 168], row: 3, bx: 393, boff: 5, x0: 445, x1: 572, tx: 523, r2: 'R<sup>2</sup>:0.61; p=0.11', rx: 519}
];

function clonotypeBar(p, r) {
    const YW = 26, PR = 4, cw = 2 * p.boff + 16;
    const cv = addCanvas(p.bx - YW, r.top - PT, YW + cw + PR, r.bottom - r.top + PT + XH);
    // stacked from the bottom: not found, not expanded, >25, clonotype 25 ... clonotype 1
    const order = [];
    for (let i = p.bar.length - 1; i >= 0; i--) order.push(i);
    new Chart(cv, {
        type: 'bar',
        data: {
            labels: [''],
            datasets: order.map(i => ({
                data: [p.bar[i]],
                backgroundColor: stackColors[i],
                borderColor: '#b4b4b4',
                borderWidth: i === 27 ? 1.5 : 0,
                borderSkipped: false,
                barPercentage: 16 / cw,
                categoryPercentage: 1
            }))
        },
        options: {
            responsive: false, animation: false, devicePixelRatio: 1,
            layout: {padding: {top: PT, right: PR, left: 0, bottom: 0}},
            plugins: {legend: {display: false}, tooltip: {enabled: false}},
            scales: {
                x: axisStyle({stacked: true, afterFit: s => { s.height = XH; },
                    grid: {drawOnChartArea: false, offset: false, color: '#000', tickLength: 4, lineWidth: 1.2}}),
                y: axisStyle({stacked: true, min: 0, max: 100, afterBuildTicks: fixedTicks([0, 20, 40, 60, 80, 100]),
                    afterFit: s => { s.width = YW; }})
            }
        }
    });
}

function clonotypeLines(p, r) {
    const YW = 36, PR = 6;
    const cv = addCanvas(p.x0 - YW, r.top - PT, p.x1 - p.x0 + YW + PR, r.bottom - r.top + PT + XH);
    const pts = vals => p.days.map((d, i) => ({x: d, y: vals[i]}));
    // first dataset is painted last, so multimer and SUM sit on top
    const sets = [
        {data: pts(p.multimer), borderColor: multimerBlue, borderWidth: 1.8, pointRadius: 2.4,
            pointBackgroundColor: '#fff', pointBorderColor: multimerBlue, pointBorderWidth: 1.2},
        {data: pts(p.sum), borderColor: '#000', borderWidth: 1.4, pointRadius: 0}
    ];
    p.clones.forEach((vals, i) => {
        if (vals) sets.push({data: pts(vals), borderColor: cloneColors[i], borderWidth: 0.9, pointRadius: 0});
    });
    new Chart(cv, {
        type: 'line',
        data: {datasets: sets},
        options: {
            responsive: false, animation: false, devicePixelRatio: 1,
            layout: {padding: {top: PT, right: PR, left: 0, bottom: 0}},
            plugins: {legend: {display: false}, tooltip: {enabled: false}},
            elements: {line: {tension: 0}},
            scales: {
                x: axisStyle({type: 'linear', min: p.xr[0], max: p.xr[1], afterBuildTicks: fixedTicks(p.xt), afterFit: s => { s.height = XH; }}),
                y: axisStyle({type: 'logarithmic', min: 0.0005, max: 100, afterBuildTicks: fixedTicks([0.001, 0.01, 0.1, 1, 10, 100]),
                    afterFit: s => { s.width = YW; }}, plainLabel)
            }
        }
    });
}

patients.forEach(p => {
    const r = ROWS[p.row];
    clonotypeBar(p, r);
    clonotypeLines(p, r);
    txt(p.name, p.tx, r.ty, 'font-size:13px;');
    txt(p.r2.replace('<sup>', '<sup style="font-size:6px">'), p.rx, r.ry, 'font-size:9px;', 'l');
});

// legend C
const legendNames = [];
for (let i = 1; i <= 25; i++) legendNames.push('clonotype ' + i);
legendNames.forEach((n, i) => {
    const y = 245 + i * 8.1;
    const box = document.createElement('div');
    box.style.cssText = 'position:absolute;left:6px;top:' + (y - 3) + 'px;width:10px;height:6px;background:' + cloneColors[i];
    document.body.appendChild(box);
    const ln = document.createElement('div');
    ln.style.cssText = 'position:absolute;left:19px;top:' + (y - 0.5) + 'px;width:11px;height:1px;background:' + cloneColors[i];
    document.body.appendChild(ln);
    txt(n, 33, y, 'font-size:9px;', 'l');
});
const extras = [
    {name: 'clonotypes &gt;25', y: 447.5, box: '#a0a0a0', line: '#a0a0a0'},
    {name: 'not expanded', y: 455.5, box: '#000'},
    {name: 'not found after infusions', y: 465, box: '#fff', border: true},
    {name: 'SUM', y: 472, line: '#000'},
    {name: 'Multimer', y: 480, line: multimerBlue, dot: true}
];
extras.forEach(e => {
    if (e.box) {
        const b = document.createElement('div');
        b.style.cssText = 'position:absolute;left:6px;top:' + (e.y - 3) + 'px;width:10px;height:6px;box-sizing:border-box;background:' + e.box + (e.border ? ';height:8px;top:' + (e.y - 4) + 'px;border:1px solid #999' : '');
        document.body.appendChild(b);
    }
    if (e.line) {
        const l = document.createElement('div');
        l.style.cssText = 'position:absolute;left:19px;top:' + (e.y - 0.5) + 'px;width:11px;height:' + (e.dot ? 1.5 : 1) + 'px;background:' + e.line;
        document.body.appendChild(l);
    }
    if (e.dot) {
        const d = document.createElement('div');
        d.style.cssText = 'position:absolute;left:21.5px;top:' + (e.y - 2.5) + 'px;width:3px;height:3px;border-radius:50%;background:#fff;border:1px solid ' + multimerBlue;
        document.body.appendChild(d);
    }
    txt(e.name, 33, e.y, 'font-size:9px;', 'l');
});

txt('% Clonotype frequency', 126, 303, 'font-size:12px;', 'rot');
txt('Infusion', 160, 764, 'font-size:12px;');
txt('product', 160, 778, 'font-size:12px;');
txt('Days after T<sub style="font-size:7px">TCR-C4</sub> infusion', 211, 764, 'font-size:12px;', 'l');
</script>
</body>
</html>
